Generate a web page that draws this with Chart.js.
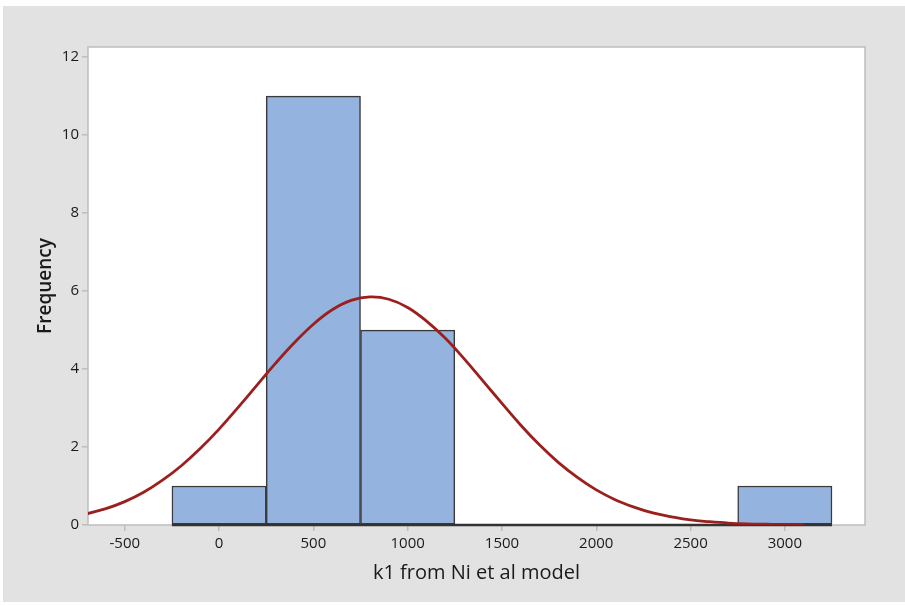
<!DOCTYPE html>
<html>
<head>
<meta charset="utf-8">
<script src="https://cdn.jsdelivr.net/npm/chart.js@4"></script>
<style>
  html, body { margin: 0; padding: 0; background: #fff; }
  #wrap { position: absolute; left: 3px; top: 6px; width: 902px; height: 596px; background: #e2e2e2; }
</style>
</head>
<body>
<div id="wrap"><canvas id="histChart" width="902" height="596"></canvas></div>
<script>
// histogram bins (center values, width 500) and their counts
const binCenters = [0, 500, 1000, 1500, 2000, 2500, 3000];
const counts = [1, 11, 5, 0, 0, 0, 1];

// fitted normal curve
const fitX = [-700, -600, -500, -400, -300, -200, -100, 0, 100, 200, 300, 400, 500, 600, 700, 800,
  900, 1000, 1100, 1200, 1300, 1400, 1500, 1600, 1700, 1800, 1900, 2000, 2100, 2200, 2300, 2400,
  2500, 2600, 2700, 2800, 2900, 3000, 3100];
const fitY = [0.29, 0.42, 0.6, 0.84, 1.15, 1.52, 1.96, 2.46, 3.01, 3.58, 4.15, 4.68, 5.15, 5.52, 5.76, 5.85,
  5.79, 5.58, 5.23, 4.79, 4.26, 3.69, 3.12, 2.56, 2.05, 1.6, 1.22, 0.9, 0.65, 0.46, 0.31, 0.21,
  0.13, 0.085, 0.05, 0.03, 0.02, 0.01, 0.01];

const xTicks = [-500, 0, 500, 1000, 1500, 2000, 2500, 3000];
const yTicks = [0, 2, 4, 6, 8, 10, 12];
const baseX = [-250, 3250];

// white plot panel with a thin grey frame, drawn under the bars
const frame = {
  id: 'frame',
  beforeDatasetsDraw(chart) {
    const { ctx, chartArea: a } = chart;
    ctx.save();
    ctx.fillStyle = '#fff';
    ctx.fillRect(a.left, a.top, a.right - a.left, a.bottom - a.top);
    ctx.strokeStyle = '#bdbdbd';
    ctx.lineWidth = 1.5;
    ctx.strokeRect(a.left, a.top, a.right - a.left, a.bottom - a.top);
    ctx.restore();
  },
};

const tickFont = { family: '"Open Sans", sans-serif', size: 15 };

new Chart(document.getElementById('histChart'), {
  type: 'bar',
  data: {
    datasets: [
      {
        type: 'line',
        data: fitX.map((x, i) => ({ x, y: fitY[i] })),
        borderColor: '#9b1f1c',
        borderWidth: 2.8,
        pointRadius: 0,
        tension: 0.4,
        fill: false,
        order: 0,
      },
      {
        type: 'line',
        data: baseX.map((x) => ({ x, y: 0 })),
        borderColor: '#333',
        borderWidth: 2.5,
        pointRadius: 0,
        clip: false,
        order: 1,
      },
      {
        data: binCenters.map((x, i) => ({ x, y: counts[i] })),
        backgroundColor: '#94b4df',
        borderColor: '#3a3a3a',
        borderWidth: 1.5,
        borderSkipped: false,
        barPercentage: 1,
        categoryPercentage: 1,
        order: 2,
      },
    ],
  },
  plugins: [frame],
  options: {
    responsive: false,
    animation: false,
    layout: { padding: { top: 41, right: 40, left: 27, bottom: 0 } },
    plugins: { legend: { display: false }, tooltip: { enabled: false } },
    scales: {
      x: {
        type: 'linear',
        offset: false,
        min: -695,
        max: 3425,
        afterBuildTicks: (s) => { s.ticks = xTicks.map((v) => ({ value: v })); },
        afterFit: (s) => { s.height = 77; },
        grid: { offset: false, drawOnChartArea: false, color: '#bdbdbd', tickLength: 6, lineWidth: 1.5 },
        border: { display: false },
        ticks: { color: '#1a1a1a', font: tickFont, padding: 4, maxRotation: 0, callback: (v) => String(v) },
        title: { display: true, text: 'k1 from Ni et al model', color: '#1a1a1a', font: { family: '"Open Sans", sans-serif', size: 20 }, padding: { top: 2, bottom: 17 } },
      },
      y: {
        min: 0,
        max: 12.26,
        afterBuildTicks: (s) => { s.ticks = yTicks.map((v) => ({ value: v })); },
        afterFit: (s) => { s.width = 58; },
        grid: { drawOnChartArea: false, color: '#bdbdbd', tickLength: 6, lineWidth: 1.5 },
        border: { display: false },
        ticks: { color: '#1a1a1a', font: tickFont, padding: 3 },
        title: { display: true, text: 'Frequency', color: '#1a1a1a', font: { family: '"Open Sans", sans-serif', size: 19, weight: '600' } },
      },
    },
  },
});
</script>
</body>
</html>
